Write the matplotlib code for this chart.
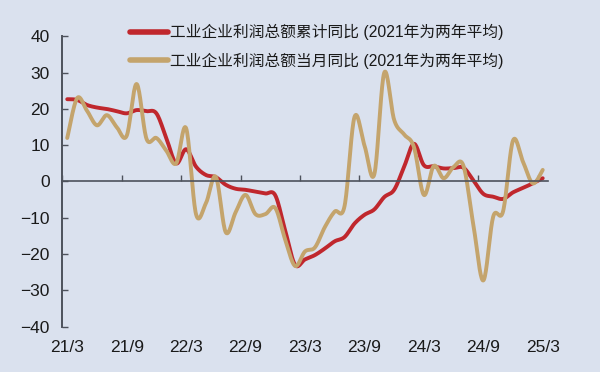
import matplotlib.pyplot as plt
import numpy as np

# monthly points, 21/3 .. 25/3
cum_yoy = [22.7, 22.5, 21.1, 20.4, 20.0, 19.4, 18.8, 19.7, 19.4, 18.8, 12.0, 5.0,
           8.9, 4.1, 1.8, 1.2, -0.9, -2.0, -2.3, -2.8, -3.3, -3.8, -13.5, -23.0,
           -21.5, -20.3, -18.5, -16.5, -15.3, -11.6, -9.2, -7.7, -4.3, -2.3, 4.0, 10.4,
           4.5, 4.2, 3.6, 3.7, 3.8, 0.3, -3.4, -4.2, -4.8, -3.0, -1.8, -0.5, 0.9]
month_yoy = [12.0, 23.0, 19.5, 15.5, 18.3, 15.0, 12.6, 26.9, 11.8, 12.0, 8.5, 5.0,
             14.7, -9.0, -6.0, 1.3, -14.0, -8.5, -3.7, -9.0, -9.0, -7.3, -16.0, -23.3,
             -19.3, -18.2, -12.6, -8.3, -6.7, 17.8, 10.0, 2.0, 30.0, 17.0, 13.0, 9.5,
             -3.7, 4.3, 0.9, 4.0, 4.3, -12.0, -27.3, -9.7, -8.2, 11.3, 5.5, -0.5, 3.2]
tick_labels = ['21/3', '21/9', '22/3', '22/9', '23/3', '23/9', '24/3', '24/9', '25/3']
names = ['工业企业利润总额累计同比 (2021年为两年平均)',
         '工业企业利润总额当月同比 (2021年为两年平均)']

bg = '#dae1ee'
axis_col = '#4d525c'
fonts = ['Liberation Sans', 'Noto Sans CJK SC']


def smooth(y, n=20):
    # Excel-like smoothed line (bezier through the points)
    p = np.column_stack([np.arange(len(y)), y]).astype(float)
    xs, ys = [], []
    t = np.linspace(0, 1, n)[:, None]
    for i in range(len(p) - 1):
        p0 = p[max(i - 1, 0)]
        p1, p2 = p[i], p[i + 1]
        p3 = p[min(i + 2, len(p) - 1)]
        b1 = p1 + (p2 - p0) / 6
        b2 = p2 - (p3 - p1) / 6
        c = ((1 - t) ** 3) * p1 + 3 * ((1 - t) ** 2) * t * b1 + 3 * (1 - t) * t ** 2 * b2 + t ** 3 * p2
        xs.extend(c[:, 0])
        ys.extend(c[:, 1])
    return np.array(xs), np.array(ys)


fig = plt.figure(figsize=(6, 3.72), dpi=100, facecolor=bg)
ax = fig.add_axes([0.1038, 0.1223, 0.809, 0.7796])
ax.set_facecolor(bg)

x1, y1 = smooth(cum_yoy)
x2, y2 = smooth(month_yoy)
l1, = ax.plot(x1, y1, color='#c0272d', lw=2.8, solid_capstyle='round')
l2, = ax.plot(x2, y2, color='#c4a46c', lw=2.8, solid_capstyle='round')

ax.set_xlim(-0.5, len(cum_yoy) - 0.5)
ax.set_ylim(-40, 40)

for s in ['top', 'right']:
    ax.spines[s].set_visible(False)
ax.spines['left'].set_color(axis_col)
ax.spines['left'].set_linewidth(1.4)
ax.spines['bottom'].set_position(('data', 0))
ax.spines['bottom'].set_color(axis_col)
ax.spines['bottom'].set_linewidth(1.2)

ax.set_xticks(np.arange(-0.5, len(cum_yoy), 6))
ax.tick_params(axis='x', direction='in', length=4, width=1, color=axis_col, labelbottom=False)
ax.set_yticks(range(-40, 41, 10))
ax.tick_params(axis='y', direction='in', length=4, width=1, color=axis_col, pad=9,
               labelsize=12.5, labelcolor='#1a1a1a')
for lab in ax.get_yticklabels():
    lab.set_family(fonts)

sec = ax.secondary_xaxis('bottom')
sec.set_xticks(np.arange(0, len(cum_yoy), 6), tick_labels)
sec.tick_params(length=0, pad=10, labelsize=12.5, labelcolor='#1a1a1a')
sec.spines['bottom'].set_visible(False)
for lab in sec.get_xticklabels():
    lab.set_family(fonts)

fig.legend([l1, l2], names, loc='upper left', bbox_to_anchor=(0.217, 0.935),
           frameon=False, borderpad=0, borderaxespad=0, handlelength=2.4,
           handletextpad=0.15, labelspacing=0.78, prop={'family': fonts, 'size': 11.3},
           labelcolor='#1a1a1a')
for h in fig.legends[0].legend_handles:
    h.set_linewidth(4)

fig.savefig('out.png', dpi=100, facecolor=bg)
